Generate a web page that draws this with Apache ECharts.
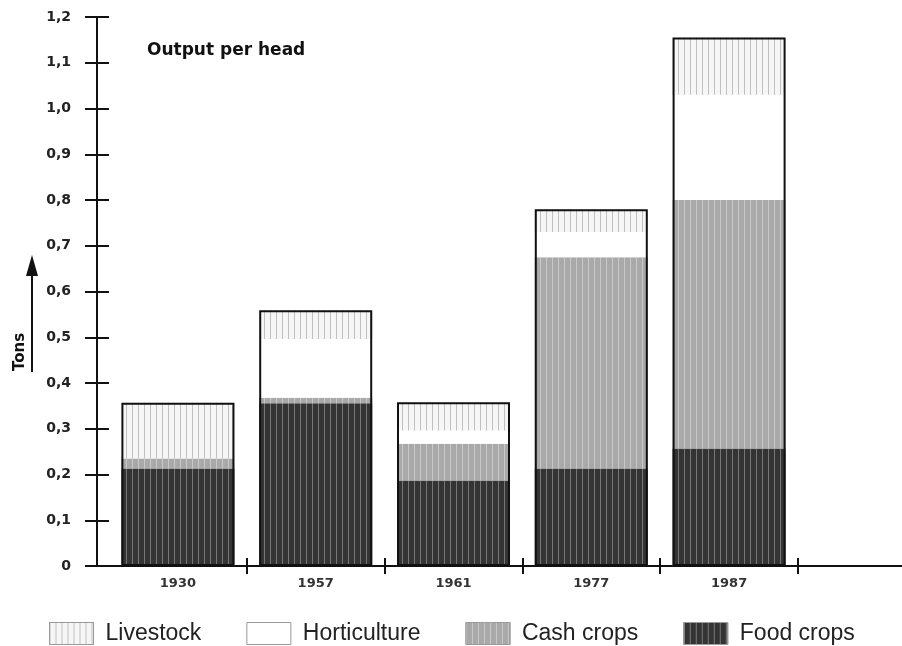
<!DOCTYPE html>
<html>
<head>
<meta charset="utf-8">
<script src="https://cdn.jsdelivr.net/npm/echarts@6/dist/echarts.min.js"></script>
<style>
  html, body { margin: 0; padding: 0; background: #fff; }
  #chart { width: 902px; height: 646px; }
</style>
</head>
<body>
<div id="chart"></div>
<script>
const years = ['1930', '1957', '1961', '1977', '1987'];

// output per head, tons
const foodCrops = [0.213, 0.356, 0.187, 0.213, 0.257];
const cashCrops = [0.022, 0.012, 0.080, 0.462, 0.543];
const horticulture = [0, 0.128, 0.029, 0.055, 0.230];
const livestock = [0.122, 0.063, 0.062, 0.050, 0.125];

const totals = years.map((y, i) => foodCrops[i] + cashCrops[i] + horticulture[i] + livestock[i]);

const stripes = (color, gap) => ({
  symbol: 'rect',
  symbolSize: 1,
  color: color,
  dashArrayX: [1, gap],
  dashArrayY: [1, 0],
  rotation: 0,
});

const seg = (name, data, color, decal) => ({
  name: name,
  type: 'bar',
  stack: 'total',
  barWidth: 113,
  barGap: '-100%',
  data: data,
  itemStyle: { color: color, decal: decal },
  silent: true,
});

const chart = echarts.init(document.getElementById('chart'), null, { renderer: 'canvas' });

const tickFmt = (v) => (v === 0 ? '0' : v.toFixed(1).replace('.', ','));
// no tick where the first year starts, the y axis stands there
const skipFirst = (i) => i !== 0;

const gridLeft = 109;
const gridTop = 17;
const gridW = 689;
const gridH = 549;

const option = {
  animation: false,
  textStyle: { fontFamily: 'DejaVu Sans' },
  title: {
    text: 'Output per head',
    left: 142,
    top: 37,
    textStyle: { fontFamily: 'DejaVu Sans', fontWeight: 'bold', fontSize: 17, color: '#111' },
  },
  legend: {
    data: ['Livestock', 'Horticulture', 'Cash crops', 'Food crops'],
    left: 44,
    top: 617,
    icon: 'rect',
    itemWidth: 44,
    itemHeight: 22,
    itemGap: 45,
    itemStyle: { borderColor: '#9a9a9a', borderWidth: 1 },
    textStyle: { fontFamily: 'Liberation Sans', fontSize: 23, color: '#222', padding: [0, 0, 0, 7] },
  },
  grid: { left: gridLeft, top: gridTop, width: gridW, height: gridH },
  xAxis: [
    {
      type: 'category',
      position: 'bottom',
      data: years,
      axisLine: { show: true, lineStyle: { color: '#111', width: 2 } },
      axisTick: { show: true, interval: skipFirst, length: 8, lineStyle: { color: '#111', width: 2 } },
      axisLabel: { margin: 11, fontSize: 13, fontWeight: 'bold', color: '#333' },
    },
    {
      type: 'category',
      position: 'bottom',
      offset: -8,
      data: years,
      axisLine: { show: false },
      axisTick: { show: true, interval: skipFirst, length: 8, lineStyle: { color: '#111', width: 2 } },
      axisLabel: { show: false },
    },
  ],
  yAxis: [
    {
      type: 'value',
      position: 'left',
      offset: 12,
      min: 0,
      max: 1.2,
      interval: 0.1,
      splitLine: { show: false },
      axisLine: { show: true, lineStyle: { color: '#111', width: 2 } },
      axisTick: { show: true, length: 12, lineStyle: { color: '#111', width: 2 } },
      axisLabel: { margin: 26, fontSize: 14, fontWeight: 'bold', color: '#222', formatter: tickFmt },
    },
    {
      type: 'value',
      position: 'left',
      offset: 12,
      min: 0,
      max: 1.2,
      interval: 0.1,
      splitLine: { show: false },
      axisLine: { show: false },
      axisTick: { show: true, inside: true, length: 12, lineStyle: { color: '#111', width: 2 } },
      axisLabel: { show: false },
    },
  ],
  graphic: [
    {
      // x axis runs on past the last year to the edge
      type: 'line',
      shape: { x1: gridLeft + gridW, y1: gridTop + gridH, x2: 902, y2: gridTop + gridH },
      style: { stroke: '#111', lineWidth: 2 },
    },
    {
      type: 'text',
      x: 20,
      y: 352,
      rotation: Math.PI / 2,
      style: {
        text: 'Tons',
        font: 'bold 15px "DejaVu Sans"',
        fill: '#111',
        align: 'center',
        verticalAlign: 'middle',
      },
    },
    {
      type: 'line',
      shape: { x1: 32, y1: 372, x2: 32, y2: 270 },
      style: { stroke: '#111', lineWidth: 2 },
    },
    {
      type: 'polygon',
      shape: { points: [[32, 255], [26, 276], [38, 276]] },
      style: { fill: '#111' },
    },
  ],
  series: [
    seg('Food crops', foodCrops, '#343434', stripes('rgba(140,140,140,0.75)', 5)),
    seg('Cash crops', cashCrops, '#a9a9a9', stripes('rgba(215,215,215,0.7)', 5)),
    seg('Horticulture', horticulture, '#ffffff', null),
    seg('Livestock', livestock, '#f6f6f6', stripes('rgba(170,170,170,0.7)', 5)),
    {
      name: 'outline',
      type: 'bar',
      barWidth: 113,
      barGap: '-100%',
      data: totals,
      z: 5,
      silent: true,
      itemStyle: { color: 'rgba(0,0,0,0)', borderColor: '#111', borderWidth: 2 },
    },
  ],
};

chart.setOption(option);
</script>
</body>
</html>
